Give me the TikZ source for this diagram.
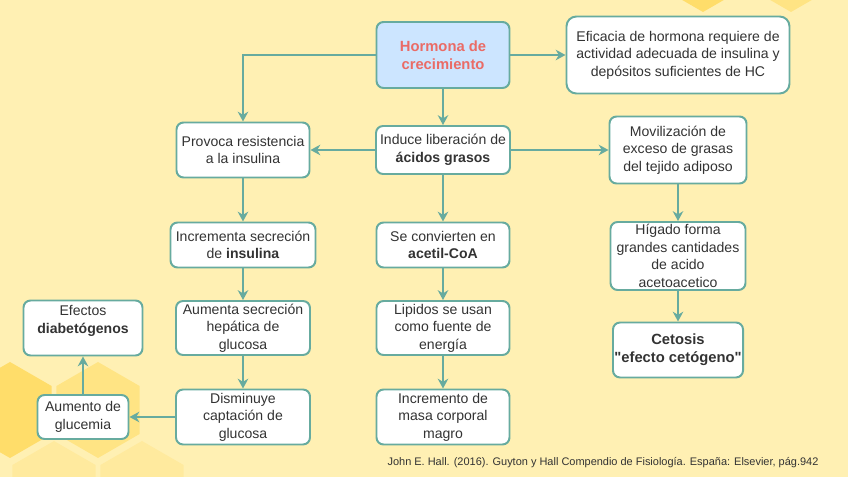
\documentclass[tikz,border=0pt]{standalone}
\usepackage{fontspec}
\setmainfont{Liberation Sans}[Ligatures=TeXOff]
\usetikzlibrary{arrows.meta}
\definecolor{fondo}{HTML}{FFF0B3}
\definecolor{panal}{HTML}{FFDD6A}
\definecolor{panalmed}{HTML}{FFE484}
\definecolor{panalclaro}{HTML}{FFEA9E}
\definecolor{verdeazul}{HTML}{67AB9F}
\definecolor{azulclaro}{HTML}{CCE5FF}
\definecolor{rojo}{HTML}{EA6B66}
\definecolor{texto}{HTML}{333333}

\begin{document}
\begin{tikzpicture}[x=0.025cm,y=-0.025cm,
    box/.style 2 args={draw=verdeazul,line width=1.4pt,fill=white,rounded corners=5pt,
      align=center,inner sep=1pt,text=texto,font=\fontsize{10}{12.4}\selectfont,
      minimum width=#1*0.025cm,minimum height=#2*0.025cm},
    arr/.style={draw=verdeazul,line width=1.4pt,-{Stealth[length=7pt,width=7.5pt]}}]
  \newcommand{\hexa}[3]{%
    \fill[#3] (#1,#2) +(30:48) -- +(90:48) -- +(150:48) -- +(210:48)
      -- +(270:48) -- +(330:48) -- cycle;}
  \useasboundingbox (0,0) rectangle (848,477);
  \clip (0,0) rectangle (848,477);
  \fill[fondo] (0,0) rectangle (848,477);
  \hexa{10}{410}{panal}
  \hexa{98}{410}{panalmed}
  \hexa{54}{489}{panalclaro}
  \hexa{142}{489}{panalclaro}
  \hexa{703}{-36}{panal}
  \hexa{791}{-36}{panalmed}

  \node[box={133}{66},fill=azulclaro,text=rojo,
    font=\fontsize{10.5}{13}\selectfont\bfseries] (hormona) at (443,55)
    {Hormona de\\crecimiento};
  \node[box={223}{77},rounded corners=7pt] (eficacia) at (678,55)
    {Eficacia de hormona requiere de\\actividad adecuada de insulina y\\dep\'ositos suficientes de HC};
  \node[box={133}{55}] (provoca) at (243,150) {Provoca resistencia\\a la insulina};
  \node[box={134}{48}] (induce) at (443,150) {Induce liberaci\'on de\\\textbf{\'acidos grasos}};
  \node[box={137}{67}] (movil) at (678,150)
    {Movilizaci\'on de\\exceso de grasas\\del tejido adiposo};
  \node[box={145}{45}] (incrementa) at (243,245) {Incrementa secreci\'on\\de \textbf{insulina}};
  \node[box={133}{45}] (convierten) at (443,245) {Se convierten en\\\textbf{acetil-CoA}};
  \node[box={135}{68}] (higado) at (678,256)
    {H\'igado forma\\grandes cantidades\\de acido\\acetoacetico};
  \node[box={129}{55},font=\fontsize{10.5}{13}\selectfont\bfseries] (cetosis) at (678,350)
    {Cetosis\\"efecto cet\'ogeno"};
  \node[box={134}{54}] (aumenta) at (243,328) {Aumenta secreci\'on\\hep\'atica de\\glucosa};
  \node[box={133}{54}] (lipidos) at (443,328) {Lipidos se usan\\como fuente de\\energ\'ia};
  \node[box={134}{55}] (disminuye) at (243,417) {Disminuye\\captaci\'on de\\glucosa};
  \node[box={133}{55}] (incremento) at (443,417) {Incremento de\\masa corporal\\magro};
  \node[box={91}{44}] (glucemia) at (83,417) {Aumento de\\glucemia};
  \node[box={119}{55}] (efectos) at (83,328) {Efectos\\\textbf{diabet\'ogenos}\\\mbox{}};

  \node[text=texto,font=\fontsize{7.8}{9}\selectfont] (cita) at (603,463)
    {John E. Hall. (2016). Guyton y Hall Compendio de Fisiolog\'ia. Espa\~na: Elsevier, p\'ag.942};

  \draw[arr] (hormona.west) -| (provoca.north);
  \draw[arr] (hormona) -- (induce);
  \draw[arr] (hormona) -- (eficacia);
  \draw[arr] (induce) -- (provoca);
  \draw[arr] (induce) -- (movil);
  \draw[arr] (provoca) -- (incrementa);
  \draw[arr] (incrementa) -- (aumenta);
  \draw[arr] (aumenta) -- (disminuye);
  \draw[arr] (disminuye) -- (glucemia);
  \draw[arr] (glucemia) -- (efectos);
  \draw[arr] (induce) -- (convierten);
  \draw[arr] (convierten) -- (lipidos);
  \draw[arr] (lipidos) -- (incremento);
  \draw[arr] (movil) -- (higado);
  \draw[arr] (higado) -- (cetosis);
\end{tikzpicture}
\end{document}
